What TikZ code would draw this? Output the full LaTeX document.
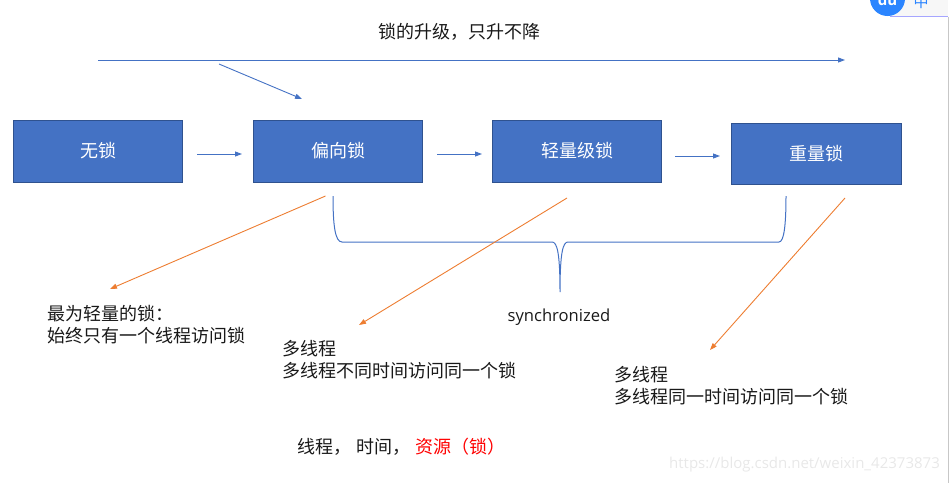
\documentclass[tikz,border=0pt]{standalone}
\usepackage{fontspec}
\setmainfont{Noto Sans CJK SC}
\newfontfamily\latinf{Open Sans}
\usetikzlibrary{arrows.meta}
\definecolor{boxblue}{HTML}{4472C4}
\definecolor{boxedge}{HTML}{2F528F}
\definecolor{arrorange}{HTML}{ED7D31}
\definecolor{widgetblue}{HTML}{2B85FF}
\tikzset{
  lockbox/.style={draw=boxedge,fill=boxblue,line width=0.7pt,minimum width=169.5pt,minimum height=62pt,inner sep=0pt,text=white,font=\fontsize{18}{20}\selectfont},
  bluearrow/.style={draw=boxblue,line width=0.9pt,-{Triangle[length=7pt,width=5pt]}},
  orangearrow/.style={draw=arrorange,line width=0.9pt,-{Triangle[length=7pt,width=5pt]}},
  note/.style={anchor=west,align=left,inner sep=0pt,text=black!90,font=\fontsize{18}{22}\selectfont},
}
\begin{document}
\begin{tikzpicture}[x=1pt,y=-1pt]
\useasboundingbox (0,0) rectangle (950,483);
% locks
\node[lockbox] (a) at (98,151) {\raisebox{-1pt}{无锁}};
\node[lockbox] (b) at (338,151) {\raisebox{-1pt}{偏向锁}};
\node[lockbox] (c) at (577,151) {\raisebox{-1pt}{轻量级锁}};
\node[lockbox,minimum height=61pt,minimum width=170.5pt] (d) at (816.5,153.5) {重量锁};
\draw[bluearrow] (197,154) -- (242,154);
\draw[bluearrow] (437,154) -- (482,154);
\draw[bluearrow] (675,156) -- (720,156);
% top
\node[font=\fontsize{18}{20}\selectfont,text=black!90,inner sep=0pt] (t) at (459,32) {锁的升级，只升不降};
\coordinate (l1) at (98,60);
\coordinate (l2) at (845,60);
\coordinate (m1) at (219,64);
\coordinate (m2) at (302,99);
\draw[bluearrow] (l1) -- (l2);
\draw[bluearrow] (m1) -- (m2);
% brace
\coordinate (s1) at (333,196);
\coordinate (s2) at (786,196);
\coordinate (s3) at (560,292);
\draw[boxblue,line width=1pt] (s1) .. controls (333,225) and (335,242) .. (342,242)
  -- (552,242) .. controls (557,242) and (560,252) .. (s3)
  .. controls (560,252) and (563,242) .. (568,242)
  -- (779,242) .. controls (784,242) and (786,225) .. (s2);
\node[font=\fontsize{16.6}{18}\selectfont\latinf,text=black!90,inner sep=0pt] (sy) at (559,317) {synchronized};
% orange arrows
\coordinate (o1) at (325.5,196);
\coordinate (o2) at (110,289);
\coordinate (o3) at (567,198);
\coordinate (o4) at (359,325);
\coordinate (o5) at (845,198);
\coordinate (o6) at (710,350);
\draw[orangearrow] (o1) -- (o2);
\draw[orangearrow] (o3) -- (o4);
\draw[orangearrow] (o5) -- (o6);
% notes
\node[note] (n1) at (47,325) {最为轻量的锁：\\始终只有一个线程访问锁};
\node[note] (n2) at (282,360) {多线程\\多线程不同时间访问同一个锁};
\node[note] (n3) at (614.5,386) {多线程\\多线程同一时间访问同一个锁};
\node[anchor=west,inner sep=0pt,font=\fontsize{18}{20}\selectfont,text=black!90] (n4) at (297,447) {线程，\hspace{5pt}时间，\hspace{5pt}\textcolor{red}{资源（锁）}};
% watermark
\node[anchor=west,inner sep=0pt,text=black!9,font=\fontsize{15}{16}\selectfont\latinf] (w) at (669,465) {https://blog.csdn.net/weixin\_42373873};
% corner widget
\fill[black!3] (890,0) rectangle (948,16);
\draw[blue!35!white,line width=0.8pt] (890,16.5) -- (948,16.5);
\draw[black!22,line width=1.5pt] (948.5,17) -- (948.5,483);
\fill[widgetblue] (887.5,-1.5) circle (17.5);
\node[text=white,inner sep=0pt,font=\fontsize{15}{15}\selectfont\bfseries\latinf] (du) at (887.5,0) {du};
\node[text=widgetblue,inner sep=0pt,font=\fontsize{15}{15}\selectfont] (zh) at (921,2) {中};
\end{tikzpicture}
\end{document}
